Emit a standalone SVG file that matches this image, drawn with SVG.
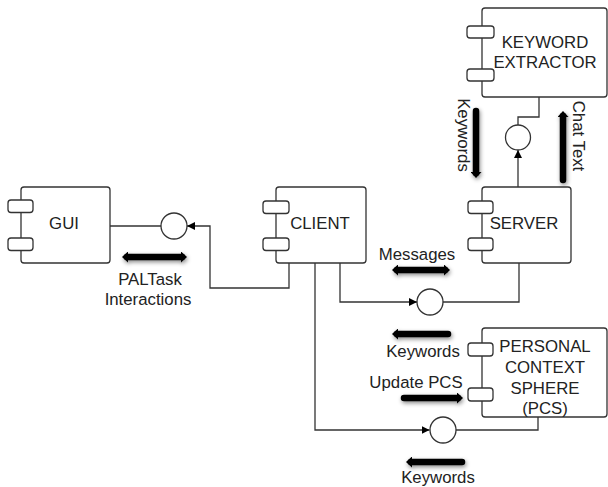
<svg xmlns="http://www.w3.org/2000/svg" width="608" height="487" viewBox="0 0 608 487">
<defs>
<style>
.box{fill:#fff;stroke:#333;stroke-width:1.3}
.port{fill:#fff;stroke:#333;stroke-width:1.3}
.lbl{font-family:"Liberation Sans",Arial,sans-serif;font-size:16.8px;fill:#222;text-anchor:middle}
.conn{fill:none;stroke:#333;stroke-width:1.3}
.iface{fill:#fff;stroke:#333;stroke-width:1.3}
.big{fill:none;stroke:#000;stroke-width:6.5;stroke-linecap:round}
</style>
<marker id="tri" viewBox="0 0 10 10" refX="10" refY="5" markerWidth="8" markerHeight="8" markerUnits="userSpaceOnUse" orient="auto">
<path d="M0,0 L10,5 L0,10 z" fill="#000"/>
</marker>
<marker id="head" viewBox="0 0 6 11" refX="1" refY="5.5" markerWidth="6" markerHeight="11" markerUnits="userSpaceOnUse" orient="auto">
<path d="M0,0 L6,5.5 L0,11 z" fill="#000"/>
</marker>
<marker id="headS" viewBox="0 0 6 11" refX="1" refY="5.5" markerWidth="6" markerHeight="11" markerUnits="userSpaceOnUse" orient="auto-start-reverse">
<path d="M0,0 L6,5.5 L0,11 z" fill="#000"/>
</marker>
<filter id="sh" filterUnits="userSpaceOnUse" x="0" y="0" width="608" height="487">
<feDropShadow dx="1" dy="2" stdDeviation="2" flood-color="#000" flood-opacity="0.45"/>
</filter>
</defs>

<g id="connectors">
<line class="conn" x1="110" y1="226" x2="161" y2="226"/>
<path class="conn" d="M289,263 V288 H210 V226 H187" marker-end="url(#tri)"/>
<path class="conn" d="M340,263 V302 H417" marker-end="url(#tri)"/>
<path class="conn" d="M443,302 H519 V263"/>
<path class="conn" d="M315,263 V430 H429.5" marker-end="url(#tri)"/>
<path class="conn" d="M456,430 H538 V417"/>
<path class="conn" d="M518,187 V150" marker-end="url(#tri)"/>
<path class="conn" d="M518,125 V117 H539 V97"/>
<circle class="iface" cx="174" cy="226" r="13"/>
<circle class="iface" cx="430" cy="302" r="13"/>
<circle class="iface" cx="443" cy="430" r="13"/>
<circle class="iface" cx="518" cy="137.5" r="12.5"/>
</g>

<g id="gui">
<rect class="box" x="21" y="187" width="89" height="76" rx="3"/>
<rect class="port" x="8" y="200" width="25" height="12.5" rx="3"/>
<rect class="port" x="8" y="238" width="25" height="12.5" rx="3"/>
<text class="lbl" x="64" y="229">GUI</text>
</g>

<g id="client">
<rect class="box" x="276" y="187" width="90" height="76" rx="3"/>
<rect class="port" x="263" y="201" width="26" height="12.5" rx="3"/>
<rect class="port" x="263" y="238" width="26" height="12.5" rx="3"/>
<text class="lbl" x="320" y="229">CLIENT</text>
</g>

<g id="server">
<rect class="box" x="482" y="187" width="89" height="76" rx="3"/>
<rect class="port" x="468" y="201" width="25" height="12.5" rx="3"/>
<rect class="port" x="468" y="238" width="25" height="12.5" rx="3"/>
<text class="lbl" x="524" y="229">SERVER</text>
</g>

<g id="keyword-extractor">
<rect class="box" x="482" y="8" width="125" height="89" rx="3"/>
<rect class="port" x="467" y="26" width="27" height="12" rx="3"/>
<rect class="port" x="467" y="69" width="27" height="12" rx="3"/>
<text class="lbl" x="545" y="48">KEYWORD</text>
<text class="lbl" x="545" y="68">EXTRACTOR</text>
</g>

<g id="pcs">
<rect class="box" x="482" y="328" width="125" height="89" rx="3"/>
<rect class="port" x="468" y="343" width="25" height="13" rx="3"/>
<rect class="port" x="468" y="388" width="25" height="13" rx="3"/>
<text class="lbl" x="545" y="352">PERSONAL</text>
<text class="lbl" x="545" y="373">CONTEXT</text>
<text class="lbl" x="545" y="394">SPHERE</text>
<text class="lbl" x="545" y="414">(PCS)</text>
</g>

<g id="flow-labels">
<g filter="url(#sh)">
<path class="big" d="M127,257 H182" marker-start="url(#headS)" marker-end="url(#head)"/>
<path class="big" d="M397,270 H445" marker-start="url(#headS)" marker-end="url(#head)"/>
<path class="big" d="M476,111 V173" marker-end="url(#head)"/>
<path class="big" d="M563,180 V116" marker-end="url(#head)"/>
<path class="big" d="M448,334 H397" marker-end="url(#head)"/>
<path class="big" d="M404,398 H458" marker-end="url(#head)"/>
<path class="big" d="M462,462 H411" marker-end="url(#head)"/>
</g>
<text class="lbl" x="150" y="285">PALTask</text>
<text class="lbl" x="148" y="305">Interactions</text>
<text class="lbl" x="417" y="260">Messages</text>
<text class="lbl" transform="translate(458,135) rotate(90)" x="0" y="0">Keywords</text>
<text class="lbl" transform="translate(573,136) rotate(90)" x="0" y="0">Chat Text</text>
<text class="lbl" x="423" y="357">Keywords</text>
<text class="lbl" x="416" y="388">Update PCS</text>
<text class="lbl" x="438" y="483">Keywords</text>
</g>
</svg>
